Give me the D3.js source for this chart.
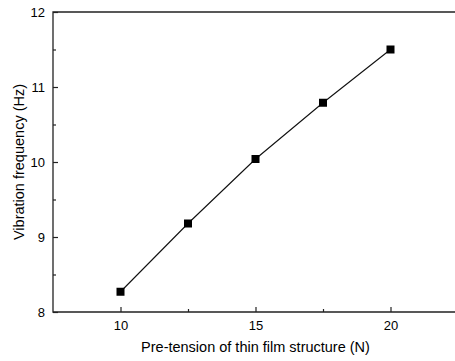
<!DOCTYPE html>
<html>
<head>
<meta charset="utf-8">
<script src="https://cdn.jsdelivr.net/npm/d3@7"></script>
<style>
  body { margin: 0; background: #fff; }
  text { font-family: "Liberation Sans", Arial, sans-serif; fill: #000; }
</style>
</head>
<body>
<svg id="chart" width="455" height="361"></svg>
<script>
const tension = [10, 12.5, 15, 17.5, 20];
const frequency = [8.27, 9.18, 10.04, 10.79, 11.5];
const xTicks = [10, 15, 20];
const xMinorTicks = [12.5, 17.5];
const yTicks = [8, 9, 10, 11, 12];
const yMinorTicks = [8.5, 9.5, 10.5, 11.5];

const margin = { left: 53, top: 12, right: -3, bottom: 49 };
const width = 455, height = 361;

const svg = d3.select('#chart');

const x = d3.scaleLinear()
    .domain([7.5, 22.5])
    .range([margin.left, width - margin.right]);
const y = d3.scaleLinear()
    .domain([8, 12])
    .range([height - margin.bottom, margin.top]);

const frame = svg.append('g')
    .attr('stroke', '#222')
    .attr('stroke-width', 1.3);

// frame edges (right edge falls outside the picture)
frame.append('path')
    .attr('fill', 'none')
    .attr('d', `M${x(22.5)},${y(12)}H${x(7.5)}V${y(8)}H${x(22.5)}`);

// inward ticks
const xAxis = svg.append('g')
    .attr('transform', `translate(0,${y(8)})`)
    .call(d3.axisBottom(x).tickValues(xTicks).tickSize(-5).tickPadding(9).tickFormat(d3.format('d')));
const xMinor = svg.append('g')
    .attr('transform', `translate(0,${y(8)})`)
    .call(d3.axisBottom(x).tickValues(xMinorTicks).tickSize(-3).tickFormat(''));
const yAxis = svg.append('g')
    .attr('transform', `translate(${x(7.5)},0)`)
    .call(d3.axisLeft(y).tickValues(yTicks).tickSize(-5).tickPadding(8).tickFormat(d3.format('d')));
const yMinor = svg.append('g')
    .attr('transform', `translate(${x(7.5)},0)`)
    .call(d3.axisLeft(y).tickValues(yMinorTicks).tickSize(-3).tickFormat(''));

[xAxis, xMinor, yAxis, yMinor].forEach(g => {
    g.select('.domain').remove();
    g.selectAll('line').attr('stroke', '#222').attr('stroke-width', 1.2);
    g.selectAll('text').attr('font-size', 13).style('font-family', '"Liberation Sans", Arial, sans-serif');
});

// data line
const line = d3.line()
    .x((d, i) => x(tension[i]))
    .y(d => y(d));

svg.append('path')
    .datum(frequency)
    .attr('fill', 'none')
    .attr('stroke', '#111')
    .attr('stroke-width', 1.1)
    .attr('d', line);

svg.selectAll('rect.pt')
    .data(frequency)
    .join('rect')
    .attr('class', 'pt')
    .attr('x', (d, i) => x(tension[i]) - 4)
    .attr('y', d => y(d) - 4)
    .attr('width', 8)
    .attr('height', 8)
    .attr('fill', '#000');

// axis titles
svg.append('text')
    .attr('x', (x(7.5) + x(22.5)) / 2)
    .attr('y', 352)
    .attr('text-anchor', 'middle')
    .attr('font-size', 14.5)
    .text('Pre-tension of thin film structure (N)');

svg.append('text')
    .attr('transform', `translate(23.5,${(y(8) + y(12)) / 2}) rotate(-90)`)
    .attr('text-anchor', 'middle')
    .attr('font-size', 14.5)
    .text('Vibration frequency (Hz)');
</script>
</body>
</html>
